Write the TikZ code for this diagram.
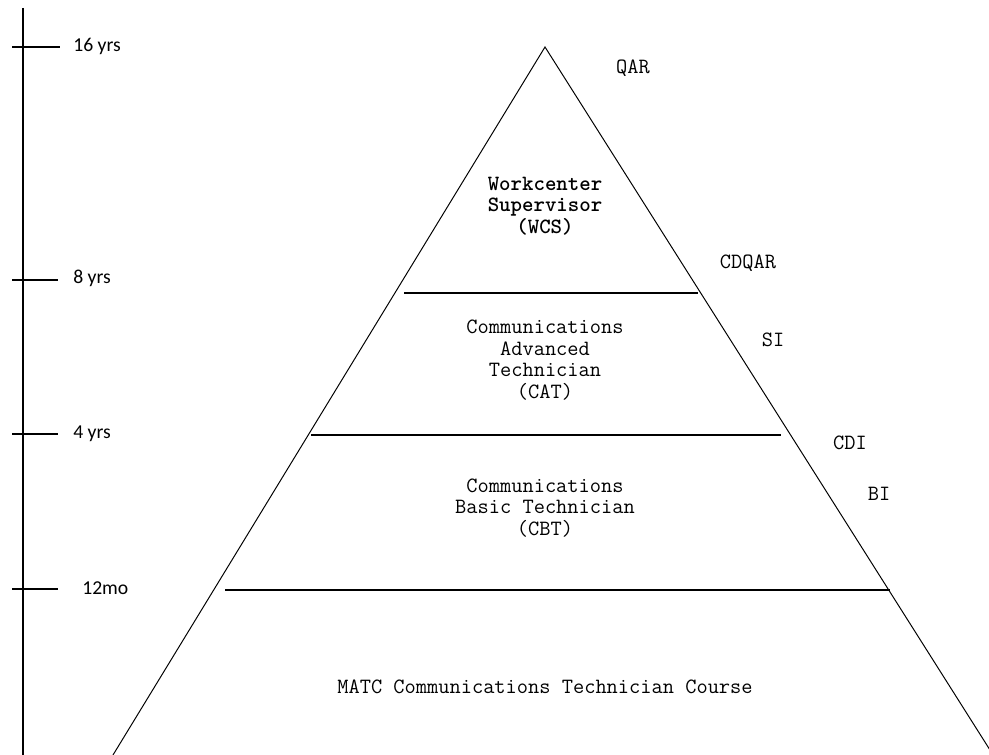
\documentclass[tikz,border=0pt]{standalone}
\usepackage{fontspec}
\newfontfamily\yrsfont{Carlito}
\usetikzlibrary{calc}

\tikzset{tier/.style={align=center,font=\ttfamily\fontsize{15.5}{15.3}\selectfont},
  boss/.style={tier,font=\ttfamily\fontsize{15.5}{15.3}\selectfont\bfseries},
  rank/.style={font=\ttfamily\fontsize{15.5}{15.3}\selectfont},
  yrs/.style={anchor=west,inner sep=0pt,font=\yrsfont\fontsize{14}{16}\selectfont},
  rung/.style={line width=1.3pt},
  tick/.style={line width=0.9pt}}

\begin{document}
\begin{tikzpicture}[x=0.025cm,y=-0.025cm]
  \useasboundingbox (0,0) rectangle (989,755);

  % pyramid
  \coordinate (apex) at (545,47);
  \coordinate (bl) at (113,755);
  \coordinate (br) at (990,750);
  \draw[line width=0.7pt] (bl) -- (apex) -- (br);

  % tiers
  \draw[rung] (404,293) -- (698,293);
  \draw[rung] (311,435) -- (781,435);
  \draw[rung] (225,590) -- (890,590);

  \node[boss] (wcs) at (545,206) {Workcenter\\Supervisor\\(WCS)};
  \node[tier] (cat) at (545,360) {Communications\\Advanced\\Technician\\(CAT)};
  \node[tier] (cbt) at (545,508) {Communications\\Basic Technician\\(CBT)};
  \node[tier] (matc) at (545,687) {MATC Communications Technician Course};

  % ranks on the right
  \node[rank] (qar) at (633,68) {QAR};
  \node[rank] (cdqar) at (748,263) {CDQAR};
  \node[rank] (si) at (773,340) {SI};
  \node[rank] (cdi) at (850,443) {CDI};
  \node[rank] (bi) at (879,494) {BI};

  % time axis
  \draw[line width=0.9pt] (23,8) -- (23,755);
  \draw[tick] (12,47) -- (60,47);
  \draw[tick] (12,280) -- (58,280);
  \draw[tick] (12,434) -- (58,434);
  \draw[tick] (12,589) -- (58,589);
  \node[yrs] (y16) at (73,46) {16 yrs};
  \node[yrs] (y8) at (73,278) {8 yrs};
  \node[yrs] (y4) at (73,434) {4 yrs};
  \node[yrs] (m12) at (82,588) {12mo};
\end{tikzpicture}
\end{document}
